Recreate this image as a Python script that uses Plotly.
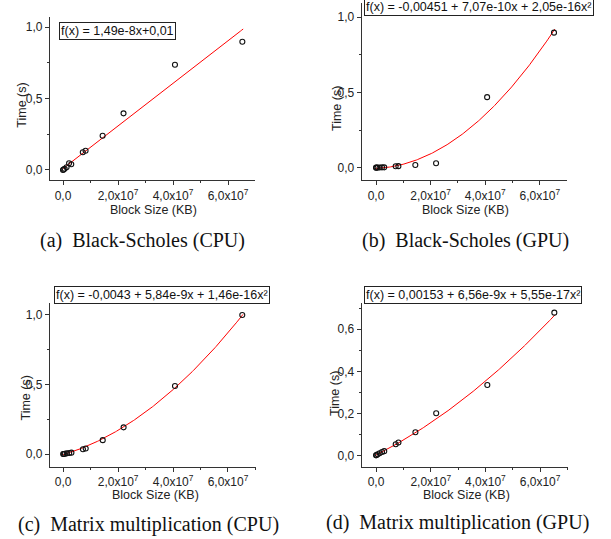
import numpy as np
import plotly.graph_objects as go

W, H = 611, 539

# ---- data ----
block_size = [0.0, 0.02e7, 0.06e7, 0.13e7, 0.22e7, 0.30e7, 0.72e7, 0.82e7, 1.44e7, 2.20e7, 4.07e7, 6.52e7]
bs_cpu = [0.0, 0.003, 0.008, 0.019, 0.047, 0.040, 0.124, 0.135, 0.240, 0.396, 0.736, 0.897]
bs_gpu = [0.0, 0.0, 0.001, 0.001, 0.002, 0.002, 0.009, 0.010, 0.018, 0.029, 0.469, 0.898]
mm_cpu = [0.0, 0.0, 0.002, 0.005, 0.008, 0.010, 0.035, 0.040, 0.100, 0.192, 0.489, 1.000]
mm_gpu = [0.0, 0.002, 0.005, 0.010, 0.016, 0.020, 0.053, 0.061, 0.110, 0.200, 0.335, 0.679]

# fit coefficients [c0, c1, c2] as printed on the chart
fit_bs_cpu = [0.01, 1.49e-8, 0.0]
fit_bs_gpu = [-0.00451, 7.07e-10, 2.05e-16]
fit_mm_cpu = [-0.0043, 5.84e-9, 1.46e-16]
fit_mm_gpu = [0.00153, 6.56e-9, 5.55e-17]

fit_labels = ["f(x) = 1,49e-8x+0,01",
              "f(x) = -0,00451 + 7,07e-10x + 2,05e-16x²",
              "f(x) = -0,0043 + 5,84e-9x + 1,46e-16x²",
              "f(x) = 0,00153 + 6,56e-9x + 5,55e-17x²"]
captions = ["(a)  Black-Scholes (CPU)", "(b)  Black-Scholes (GPU)",
            "(c)  Matrix multiplication (CPU)", "(d)  Matrix multiplication (GPU)"]

x_tickvals = [0, 2e7, 4e7, 6e7]
x_ticktext = ["0,0", "2,0x10<sup>7</sup>", "4,0x10<sup>7</sup>", "6,0x10<sup>7</sup>"]
y_tickvals_a = [0, 0.5, 1.0]
y_ticktext_a = ["0,0", "0,5", "1,0"]
y_tickvals_d = [0, 0.2, 0.4, 0.6]
y_ticktext_d = ["0,0", "0,2", "0,4", "0,6"]

fit_xmax = 6.55e7


def fx(px):
    return px / W


def fy(py):
    return 1 - py / H


# ---- layout geometry (page pixels) ----
panels = [
    dict(y=bs_cpu, fit=fit_bs_cpu, px=(50, 255), py=(17, 180), xr=(-0.473e7, 6.98e7), yr=(-0.07, 1.07),
         yt=(y_tickvals_a, y_ticktext_a, 0.25), box=(117, 31), ytitle=(21.7, 105), xtitle=(153, 210), cap=(142, 240)),
    dict(y=bs_gpu, fit=fit_bs_gpu, px=(361.7, 566.7), py=(3, 180), xr=(-0.524e7, 6.985e7), yr=(-0.082, 1.095),
         yt=(y_tickvals_a, y_ticktext_a, 0.25), box=(479, 7), ytitle=(337, 109), xtitle=(465.5, 210), cap=(466, 240)),
    dict(y=mm_cpu, fit=fit_mm_cpu, px=(50, 256), py=(303, 466.7), xr=(-0.48e7, 7.02e7), yr=(-0.091, 1.086),
         yt=(y_tickvals_a, y_ticktext_a, 0.25), box=(161.5, 294.5), ytitle=(25, 398.5), xtitle=(155, 494.5), cap=(148, 524)),
    dict(y=mm_gpu, fit=fit_mm_gpu, px=(361.7, 568), py=(303, 466.7), xr=(-0.524e7, 7.02e7), yr=(-0.054, 0.725),
         yt=(y_tickvals_d, y_ticktext_d, 0.1), box=(473, 295), ytitle=(335, 394), xtitle=(466.7, 495), cap=(457, 522)),
]

fig = go.Figure()
annotations = []
axis_font = dict(family="Liberation Sans, Arial, sans-serif", size=12, color="#222")
line_col = "#333"

for i, p in enumerate(panels):
    n = "" if i == 0 else str(i + 1)
    xa, ya = "x" + n, "y" + n
    xf = np.linspace(0, fit_xmax, 200)
    c = p["fit"]
    yf = c[0] + c[1] * xf + c[2] * xf ** 2
    fig.add_trace(go.Scatter(x=xf, y=yf, mode="lines", line=dict(color="#ff0000", width=1),
                             xaxis=xa, yaxis=ya, showlegend=False, hoverinfo="skip"))
    fig.add_trace(go.Scatter(x=block_size, y=p["y"], mode="markers",
                             marker=dict(symbol="circle-open", size=5, color="#111", line=dict(width=1.1)),
                             xaxis=xa, yaxis=ya, showlegend=False))
    xd = [fx(p["px"][0]), fx(p["px"][1])]
    yd = [max(0, fy(p["py"][1])), min(1, fy(p["py"][0]))]
    fig.layout["xaxis" + n] = dict(
        domain=xd, range=list(p["xr"]), anchor=ya, showline=True, linecolor=line_col, linewidth=1.3,
        showgrid=False, zeroline=False, ticks="outside", ticklen=4, tickcolor=line_col, tickwidth=1,
        tickmode="array", tickvals=x_tickvals, ticktext=x_ticktext, tickfont=axis_font,
        minor=dict(tickmode="linear", tick0=0, dtick=1e7, ticks="outside", ticklen=2, tickcolor=line_col),
        fixedrange=True)
    tv, tt, mdt = p["yt"]
    fig.layout["yaxis" + n] = dict(
        domain=yd, range=list(p["yr"]), anchor=xa, showline=True, linecolor=line_col, linewidth=1.3,
        showgrid=False, zeroline=False, ticks="outside", ticklen=4, tickcolor=line_col, tickwidth=1,
        tickmode="array", tickvals=tv, ticktext=tt, tickfont=axis_font,
        minor=dict(tickmode="linear", tick0=0, dtick=mdt, ticks="outside", ticklen=2, tickcolor=line_col),
        fixedrange=True)
    bx, by = p["box"]
    annotations.append(dict(xref="paper", yref="paper", x=fx(bx), y=fy(by), xanchor="center", yanchor="middle",
                            text=fit_labels[i], showarrow=False, bordercolor="#222", borderwidth=1, borderpad=1,
                            bgcolor="white", font=dict(family="Liberation Sans, Arial, sans-serif", size=12.5, color="#111")))
    tx, ty = p["ytitle"]
    annotations.append(dict(xref="paper", yref="paper", x=fx(tx), y=fy(ty), xanchor="center", yanchor="middle",
                            text="Time (s)", textangle=-90, showarrow=False,
                            font=dict(family="Liberation Sans, Arial, sans-serif", size=12.5, color="#222")))
    tx, ty = p["xtitle"]
    annotations.append(dict(xref="paper", yref="paper", x=fx(tx), y=fy(ty), xanchor="center", yanchor="middle",
                            text="Block Size (KB)", showarrow=False,
                            font=dict(family="Liberation Sans, Arial, sans-serif", size=12.5, color="#222")))
    cx, cy = p["cap"]
    annotations.append(dict(xref="paper", yref="paper", x=fx(cx), y=fy(cy), xanchor="center", yanchor="middle",
                            text=captions[i].replace("  ", "&nbsp; "), showarrow=False,
                            font=dict(family="Liberation Serif, Times New Roman, serif", size=20, color="#111")))

fig.update_layout(width=W, height=H, margin=dict(l=0, r=0, t=0, b=0), paper_bgcolor="white",
                  plot_bgcolor="white", annotations=annotations)
fig.write_html("out.html", config={"displayModeBar": False},
               post_script="document.body.style.margin='0';document.body.style.overflow='hidden';")
